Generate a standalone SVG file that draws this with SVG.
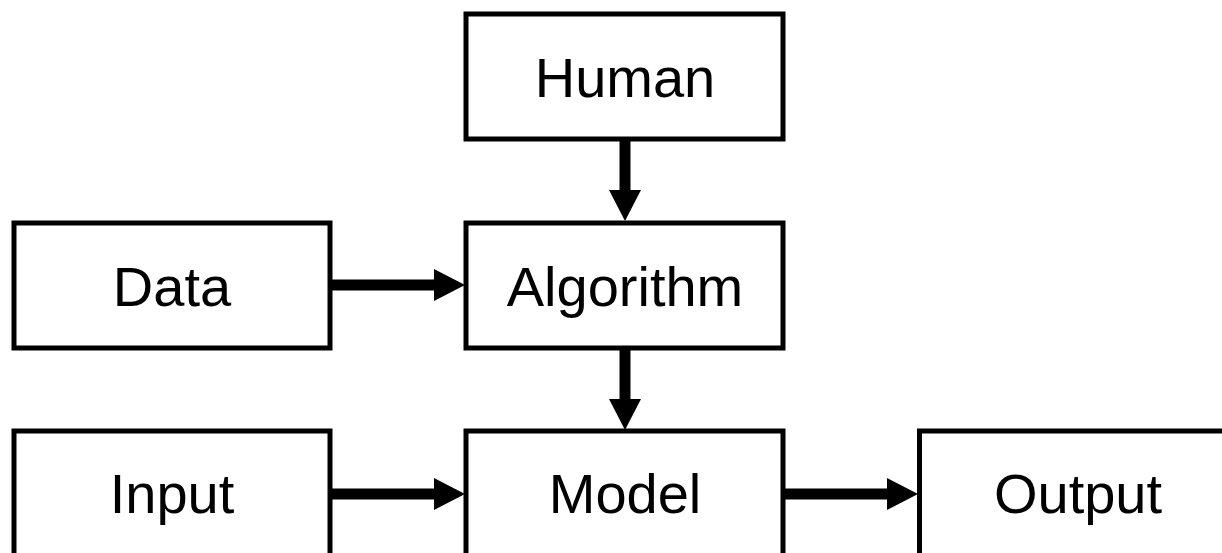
<svg xmlns="http://www.w3.org/2000/svg" width="1222" height="553" viewBox="0 0 1222 553">
<style>
.box{fill:#fff;stroke:#000;stroke-width:5}
.lbl{font-family:"Liberation Sans",Arial,sans-serif;font-size:56px;fill:#000;text-anchor:middle}
.conn{stroke:#000;stroke-width:11;fill:none;marker-end:url(#ah)}
</style>
<defs>
<marker id="ah" markerUnits="userSpaceOnUse" markerWidth="32" markerHeight="32" refX="0" refY="16" orient="auto" viewBox="0 0 32 32">
<path d="M0,0 L31,16 L0,32 Z" fill="#000"/>
</marker>
</defs>
<rect width="1222" height="553" fill="#fff"/>
<g id="connectors">
<line class="conn" x1="625" y1="141" x2="625" y2="190"/>
<line class="conn" x1="332" y1="285" x2="434" y2="285"/>
<line class="conn" x1="625" y1="350" x2="625" y2="399"/>
<line class="conn" x1="332" y1="494" x2="434" y2="494"/>
<line class="conn" x1="785" y1="494" x2="887" y2="494"/>
</g>
<g id="human"><rect class="box" x="466" y="14" width="317" height="125"/><text class="lbl" x="625" y="97">Human</text></g>
<g id="data"><rect class="box" x="14" y="223" width="316" height="125"/><text class="lbl" x="172" y="306">Data</text></g>
<g id="algorithm"><rect class="box" x="466" y="223" width="317" height="125"/><text class="lbl" x="625" y="306">Algorithm</text></g>
<g id="input"><rect class="box" x="14" y="431" width="316" height="125"/><text class="lbl" x="172" y="513">Input</text></g>
<g id="model"><rect class="box" x="466" y="431" width="317" height="125"/><text class="lbl" x="625" y="513">Model</text></g>
<g id="output"><rect class="box" x="919.5" y="431" width="317" height="125"/><text class="lbl" x="1078" y="513">Output</text></g>
</svg>
